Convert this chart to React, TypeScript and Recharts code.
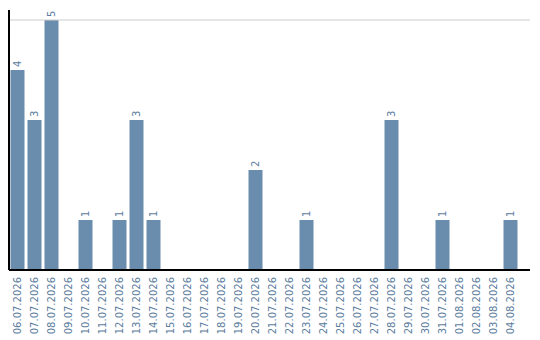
import React from "react";
import { BarChart, Bar, XAxis, YAxis, ReferenceLine, LabelList } from "recharts";

const dates = [
  "06.07.2026", "07.07.2026", "08.07.2026", "09.07.2026", "10.07.2026",
  "11.07.2026", "12.07.2026", "13.07.2026", "14.07.2026", "15.07.2026",
  "16.07.2026", "17.07.2026", "18.07.2026", "19.07.2026", "20.07.2026",
  "21.07.2026", "22.07.2026", "23.07.2026", "24.07.2026", "25.07.2026",
  "26.07.2026", "27.07.2026", "28.07.2026", "29.07.2026", "30.07.2026",
  "31.07.2026", "01.08.2026", "02.08.2026", "03.08.2026", "04.08.2026",
];

const counts = [
  4, 3, 5, 0, 1, 0, 1, 3, 1, 0,
  0, 0, 0, 0, 2, 0, 0, 1, 0, 0,
  0, 0, 3, 0, 0, 1, 0, 0, 0, 1,
];

// the single labelled level on the value axis, drawn with its grid line
const gridValue = 5;

const data = dates.map((d, i) => ({ date: d, count: counts[i] }));

const BAR = "#6a8cad";
const TEXT = "#5b7c9d";
const FONT = "DejaVu Sans";

const renderXTick = (props: any) => {
  const { x, y, payload } = props;
  const ty = y - 1;
  return (
    <text
      key={`x-${payload.value}`}
      x={x}
      y={ty}
      transform={`rotate(-90, ${x}, ${ty})`}
      textAnchor="end"
      dominantBaseline="central"
      fontSize={10}
      fontFamily={FONT}
      fill={TEXT}
    >
      {payload.value}
    </text>
  );
};

const renderValueLabel = (props: any) => {
  const { x, y, width, value } = props;
  if (!value) return null;
  const cx = x + width / 2;
  const cy = y - 3;
  return (
    <text
      x={cx}
      y={cy}
      transform={`rotate(-90, ${cx}, ${cy})`}
      textAnchor="start"
      dominantBaseline="central"
      fontSize={10}
      fontFamily={FONT}
      fill={TEXT}
    >
      {value}
    </text>
  );
};

export default function App() {
  return (
    <div style={{ marginLeft: -8, marginTop: -8, position: "relative", width: 540, height: 340 }}>
      <BarChart
        width={540}
        height={340}
        data={data}
        margin={{ top: 10, right: 10, bottom: 0, left: 0 }}
        barCategoryGap={1.5}
      >
        <ReferenceLine y={gridValue} stroke="#cccccc" />
        <XAxis
          dataKey="date"
          interval={0}
          height={70}
          padding={{ left: 0, right: 11 }}
          tickLine={false}
          axisLine={{ stroke: "#000", strokeWidth: 2 }}
          tick={renderXTick}
        />
        <YAxis
          width={9}
          type="number"
          domain={[0, 5.2]}
          ticks={[]}
          tick={false}
          tickLine={false}
          axisLine={{ stroke: "#000", strokeWidth: 2 }}
        />
        <Bar dataKey="count" fill={BAR} isAnimationActive={false}>
          <LabelList dataKey="count" content={renderValueLabel} />
        </Bar>
      </BarChart>
      {/* value-axis label for the grid level, rotated like the other texts */}
      <div
        style={{
          position: "absolute",
          left: 1,
          top: 17,
          width: 10,
          height: 10,
          lineHeight: "10px",
          textAlign: "center",
          fontFamily: FONT,
          fontSize: 9,
          color: "#000",
          transform: "rotate(-90deg)",
        }}
      >
        {gridValue}
      </div>
    </div>
  );
}
